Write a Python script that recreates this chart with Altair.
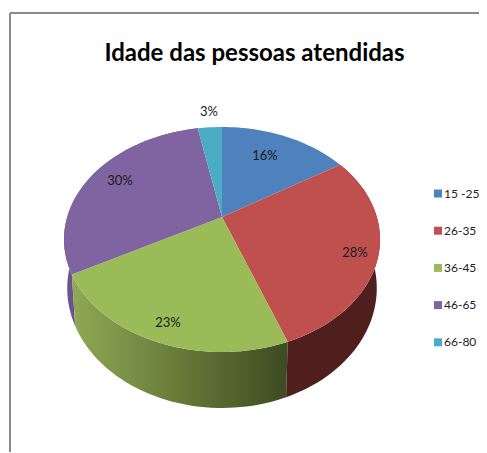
import math
import altair as alt
import pandas as pd

ages = ["15 -25", "26-35", "36-45", "46-65", "66-80"]
shares = [16, 28.4, 22.6, 30, 3]
colors = ["#4F81BD", "#C0504D", "#9BBB59", "#8064A2", "#4BACC6"]
labels = ["16%", "28%", "23%", "30%", "3%"]
title_text = "Idade das pessoas atendidas"
FONT = "Lato"

# pie perspective
CX, CY = 222, 217
A, B, K = 154.8, 108, 0.2
DEPTH_M, DEPTH_C = 0.02, 48.6


def proj(pct, z=0):
    t = math.radians(pct * 3.6)
    u, v = math.sin(t), -math.cos(t)
    w = 1 - K * v + DEPTH_M * z
    return CX + A * u / w, CY + (B * v + DEPTH_C * z) / w


tops, sides = [], []
start = 0
for name, share in zip(ages, shares):
    steps = max(2, int(share * 2))
    pcts = [start + share * i / steps for i in range(steps + 1)]
    pts = [(CX, CY)] + [proj(p) for p in pcts] + [(CX, CY)]
    for i, (x, y) in enumerate(pts):
        tops.append({"age": name, "i": i, "x": x, "y": y})
    ring = [proj(p) for p in pcts] + [proj(p, 1) for p in reversed(pcts)]
    for i, (x, y) in enumerate(ring):
        sides.append({"age": name, "i": i, "x": x, "y": y})
    start += share

tops = pd.DataFrame(tops)
sides = pd.DataFrame(sides)

xs = alt.Scale(domain=[8, 479], range=[0, 471], nice=False, zero=False)
ys = alt.Scale(domain=[8, 452], range=[0, 444], nice=False, zero=False)
X = alt.X("x:Q", scale=xs, axis=None)
Y = alt.Y("y:Q", scale=ys, axis=None)


def side(name, fill):
    return (
        alt.Chart(sides[sides.age == name])
        .mark_line(filled=True, fill=fill, strokeWidth=0, interpolate="linear")
        .encode(x=X, y=Y, order="i:Q")
    )


green_grad = alt.Gradient(
    gradient="linear", x1=0, x2=1, y1=0, y2=0,
    stops=[
        alt.GradientStop(offset=0, color="#8FA955"),
        alt.GradientStop(offset=0.45, color="#6B7F3C"),
        alt.GradientStop(offset=1, color="#3C4B21"),
    ],
)

top = (
    alt.Chart(tops)
    .mark_line(filled=True, strokeWidth=0)
    .encode(
        x=X, y=Y, order="i:Q",
        color=alt.Color(
            "age:N",
            scale=alt.Scale(domain=ages, range=colors),
            legend=alt.Legend(
                title=None, orient="none", legendX=424, legendY=179.5,
                symbolType="square", symbolSize=64, symbolStrokeWidth=0,
                labelFont=FONT, labelFontSize=12, labelColor="#222222",
                rowPadding=25.2, labelOffset=0, labelLimit=60,
            ),
        ),
    )
)

text_df = pd.DataFrame({
    "label": labels,
    "x": [265, 355, 168, 120, 209],
    "y": [156, 253, 323, 181, 112],
})
texts = (
    alt.Chart(text_df)
    .mark_text(font=FONT, fontSize=13, color="#1a1a1a", baseline="middle", align="center")
    .encode(x=X, y=Y, text="label:N")
)

title_df = pd.DataFrame({"label": [title_text], "x": [254.5], "y": [54]})
title = (
    alt.Chart(title_df)
    .mark_text(font=FONT, fontSize=24, fontWeight="bold", color="#000000", baseline="middle", align="center")
    .encode(x=X, y=Y, text="label:N")
)

frame_v = alt.Chart(pd.DataFrame({"x": [10], "y": [13], "y2": [452]})).mark_rule(color="#8a8a8a", strokeWidth=2).encode(
    x=X, y=Y, y2="y2:Q")
frame_h = alt.Chart(pd.DataFrame({"x": [10], "x2": [479], "y": [13]})).mark_rule(color="#8a8a8a", strokeWidth=2).encode(
    x=X, x2="x2:Q", y=Y)

chart = (
    alt.layer(
        frame_v, frame_h,
        side("46-65", "#6B5290"),
        side("36-45", green_grad),
        side("26-35", "#4F1F1E"),
        top, texts, title,
    )
    .resolve_scale(color="independent")
    .properties(width=471, height=444, padding=0, autosize=alt.AutoSizeParams(type="none"))
    .configure_view(stroke=None)
)
chart.save("out.html", embed_options={"renderer": "svg", "actions": False})
